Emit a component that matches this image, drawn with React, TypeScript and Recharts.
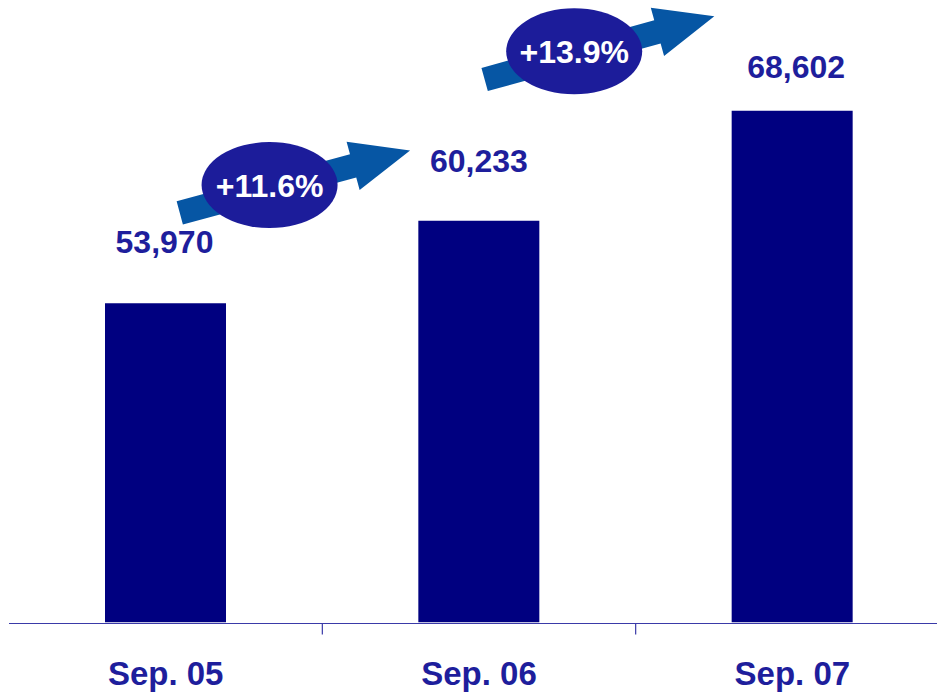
import { BarChart, Bar, XAxis, YAxis, LabelList, ReferenceLine } from "recharts";

const periods = ["Sep. 05", "Sep. 06", "Sep. 07"];
const customers = [53970, 60233, 68602];

// arrow tail/tip in chart units (x on the 0..3 boundary axis, y in customers)
const arrowTails = [
  [0.545, 60840],
  [1.518, 70970],
];
const arrowTips = [
  [1.28, 65570],
  [2.251, 75780],
];
const boundaryTicks = [0, 1, 2, 3];

// slot = position of each category's centre on the 0..3 boundary axis
const data = periods.map((p, i) => ({ period: p, value: customers[i], slot: i + 0.5 }));

const FONT = '"Liberation Sans", Arial, Helvetica, sans-serif';
const TEXT_BLUE = "#1e1e9c";
const AXIS_BLUE = "#3a3aa8";

// per-bar label nudges (dx, gap above bar)
const labelNudge = [
  [-1, 50],
  [0, 49],
  [4, 33],
];

const growth = customers
  .slice(1)
  .map((v, i) => `+${((v / customers[i] - 1) * 100).toFixed(1)}%`);

const BarValue = (props: any) => {
  const { x, y, width, value, index } = props;
  const [dx, gap] = labelNudge[index] || [0, 40];
  return (
    <text
      x={x + width / 2 + dx}
      y={y - gap}
      textAnchor="middle"
      fill={TEXT_BLUE}
      fontFamily={FONT}
      fontWeight="bold"
      fontSize={32}
    >
      {Number(value).toLocaleString("en-US")}
    </text>
  );
};

// small marks between categories, skipping the two outer edges
const BoundaryTick = (props: any) => {
  const { x, y, payload } = props;
  const v = payload && payload.value;
  if (v <= 0 || v >= 3) return <g />;
  return <line x1={x} x2={x} y1={y} y2={y + 11} stroke={AXIS_BLUE} strokeWidth={1.2} />;
};

const GrowthArrow = (props: any) => {
  const { x1, y1, x2, y2, label } = props;
  const dx = x2 - x1;
  const dy = y2 - y1;
  const len = Math.sqrt(dx * dx + dy * dy);
  const ux = dx / len;
  const uy = dy / len;
  const nx = -uy;
  const ny = ux;
  const hw = 12;
  const HW = 25;
  const headLen = 59;
  const bx = x2 - ux * headLen;
  const by = y2 - uy * headLen;
  const pts = [
    [x1 + nx * hw, y1 + ny * hw],
    [bx + nx * hw, by + ny * hw],
    [bx + nx * HW, by + ny * HW],
    [x2, y2],
    [bx - nx * HW, by - ny * HW],
    [bx - nx * hw, by - ny * hw],
    [x1 - nx * hw, y1 - ny * hw],
  ]
    .map((p) => p.join(","))
    .join(" ");
  const cx = x1 + dx * 0.39;
  const cy = y1 + dy * 0.39 - 3.5;
  return (
    <g>
      <polygon points={pts} fill="#0656a4" />
      <ellipse cx={cx} cy={cy} rx={68} ry={43} fill="#1c1c9a" />
      <text
        x={cx}
        y={cy + 11.5}
        textAnchor="middle"
        fill="#ffffff"
        fontFamily={FONT}
        fontWeight="bold"
        fontSize={32}
      >
        {label}
      </text>
    </g>
  );
};

export default function App() {
  return (
    <div
      style={{
        position: "absolute",
        left: 0,
        top: 0,
        width: 937,
        height: 697,
        overflow: "hidden",
        background: "#fff",
      }}
    >
      <BarChart
        width={950}
        height={697}
        data={data}
        margin={{ top: 26.5, right: 1, bottom: 72.5, left: 9 }}
      >
        <XAxis
          xAxisId="grid"
          dataKey="slot"
          type="number"
          domain={[0, 3]}
          ticks={boundaryTicks}
          allowDataOverflow
          height={1}
          tickLine={false}
          tickSize={0}
          tickMargin={0}
          tick={<BoundaryTick />}
          axisLine={{ stroke: AXIS_BLUE, strokeWidth: 1.2 }}
        />
        <XAxis
          xAxisId="cat"
          dataKey="period"
          height={1}
          interval={0}
          axisLine={false}
          tickLine={false}
          tickSize={6}
          tickMargin={33}
          tick={{
            fill: TEXT_BLUE,
            fontSize: 33,
            fontWeight: "bold",
            fontFamily: FONT,
          }}
        />
        <YAxis hide domain={[29700, 75000]} allowDataOverflow />
        <Bar
          xAxisId="cat"
          dataKey="value"
          fill="#000080"
          barSize={121}
          isAnimationActive={false}
        >
          <LabelList dataKey="value" content={<BarValue />} />
        </Bar>
        {growth.map((g, i) => (
          <ReferenceLine
            key={g}
            xAxisId="grid"
            ifOverflow="visible"
            segment={[
              { x: arrowTails[i][0], y: arrowTails[i][1] },
              { x: arrowTips[i][0], y: arrowTips[i][1] },
            ]}
            shape={(p: any) => <GrowthArrow {...p} label={g} />}
          />
        ))}
      </BarChart>
    </div>
  );
}
